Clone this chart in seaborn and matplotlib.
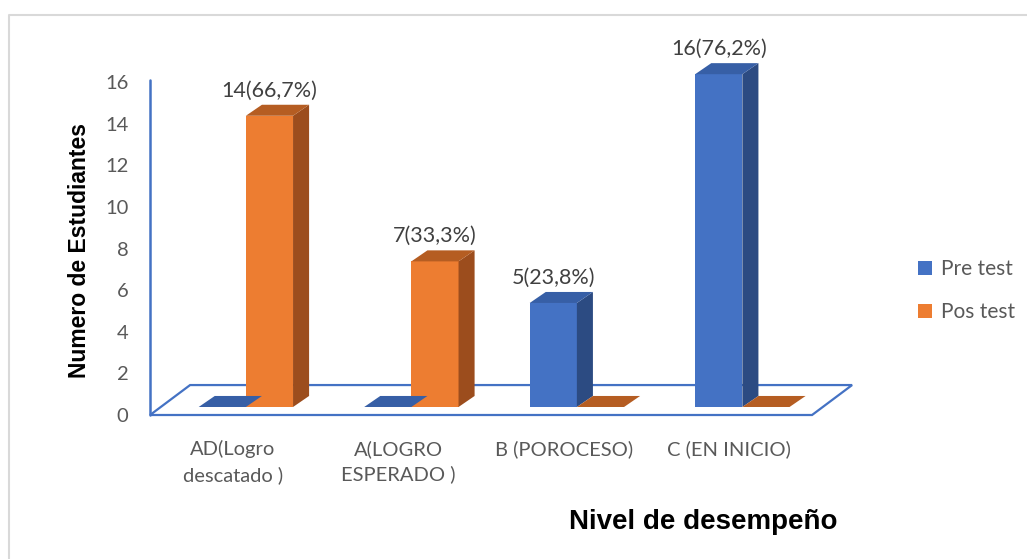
import matplotlib
matplotlib.use("Agg")
import matplotlib.pyplot as plt
import seaborn as sns
import pandas as pd
from matplotlib.patches import Polygon
from matplotlib.lines import Line2D

categories = ["AD(Logro\ndescatado )", "A(LOGRO\nESPERADO )", "B (POROCESO)", "C (EN INICIO)"]
series = ["Pre test", "Pos test"]
pre_test = [0, 0, 5, 16]
pos_test = [14, 7, 0, 0]
pre_labels = ["", "", "5(23,8%)", "16(76,2%)"]
pos_labels = ["14(66,7%)", "7(33,3%)", "", ""]
y_ticks = [0, 2, 4, 6, 8, 10, 12, 14, 16]

front_colors = ["#4472C4", "#ED7D31"]
side_colors = ["#2C4B82", "#9C4D1D"]
top_colors = ["#375FA6", "#B55D22"]

sns.set_theme(style="white")
plt.rcParams['font.family'] = ['Lato', 'DejaVu Sans']

df = pd.DataFrame({
    "cat": categories * 2,
    "serie": [series[0]] * 4 + [series[1]] * 4,
    "val": pre_test + pos_test,
})

fig = plt.figure(figsize=(10.27, 5.59), dpi=100)
ax = fig.add_axes([0.1461, 0.2576, 0.6446, 0.6698])
sns.barplot(data=df, x="cat", y="val", hue="serie", order=categories,
            hue_order=series, palette=front_colors, width=0.57,
            saturation=1, errorbar=None, linewidth=0, ax=ax)

ax.set_xlim(-0.5, 3.5)
ax.set_ylim(0, 18)

# 3D-like geometry (in data units)
dx0, dy0 = 0.079, 0.385     # bar front offset from floor front
ddx, ddy = 0.097, 0.53      # bar depth
fdx, fdy = 0.242, 1.44      # floor depth

# floor and wall
floor = Polygon([(-0.5, 0), (3.5, 0), (3.5 + fdx, fdy), (-0.5 + fdx, fdy)],
                closed=True, fill=False, edgecolor="#4472C4", lw=1.6,
                clip_on=False, zorder=0.5)
ax.add_patch(floor)
ax.plot([-0.5, -0.5], [0, 16.1], color="#4472C4", lw=1.8, clip_on=False, zorder=0.6)

all_labels = [pre_labels, pos_labels]
for si, cont in enumerate(ax.containers[:2]):
    for bi, p in enumerate(cont.patches):
        x = p.get_x() + dx0
        w = p.get_width()
        h = p.get_height()
        y0 = dy0
        p.set_x(x)
        p.set_y(y0)
        p.set_zorder(2)
        side = Polygon([(x + w, y0), (x + w + ddx, y0 + ddy), (x + w + ddx, y0 + ddy + h), (x + w, y0 + h)],
                       closed=True, facecolor=side_colors[si], edgecolor="none", zorder=2)
        top = Polygon([(x, y0 + h), (x + ddx, y0 + h + ddy), (x + w + ddx, y0 + h + ddy), (x + w, y0 + h)],
                      closed=True, facecolor=top_colors[si], edgecolor="none", zorder=2)
        if h > 0:
            ax.add_patch(side)
        ax.add_patch(top)
        lab = all_labels[si][bi]
        if lab:
            ax.text(x + w / 2, y0 + h + ddy + 0.2, lab, ha="center", va="bottom",
                    fontsize=15.5, color="#404040", zorder=3, clip_on=False)

for s in ax.spines.values():
    s.set_visible(False)
ax.set_yticks(y_ticks)
ax.set_yticklabels([str(t) for t in y_ticks])
ax.tick_params(axis="y", length=0, pad=15.5, labelsize=14.5, labelcolor="#595959")
ax.tick_params(axis="x", length=0, pad=18, labelsize=14.5, labelcolor="#595959")
for t in ax.get_xticklabels():
    t.set_linespacing(1.52)
ax.set_xlabel("")
ax.set_ylabel("")

fig.text(80 / 1027, 1 - 250 / 559, "Numero de Estudiantes", rotation=90,
         ha="center", va="center", fontsize=16.5, fontweight="bold",
         family=["Liberation Sans", "DejaVu Sans"], color="black")
fig.text(703 / 1027, 1 - 522 / 559, "Nivel de desempeño",
         ha="center", va="center", fontsize=20, fontweight="bold",
         family=["Liberation Sans", "DejaVu Sans"], color="black")

handles, labels = ax.get_legend_handles_labels()
leg = ax.legend(handles, labels, loc="center left", bbox_to_anchor=(918 / 1027, 1 - 290.5 / 559),
                bbox_transform=fig.transFigure, frameon=False, fontsize=15,
                handlelength=0.65, handleheight=0.65, handletextpad=0.45,
                labelspacing=1.1, borderpad=0, borderaxespad=0)
for t in leg.get_texts():
    t.set_color("#595959")

fig.lines.append(Line2D([9 / 1027, 9 / 1027, 1.0], [0.0, 1 - 15 / 559, 1 - 15 / 559],
                        transform=fig.transFigure, color="#D9D9D9", lw=1.5))

fig.savefig("out.png", dpi=100)
